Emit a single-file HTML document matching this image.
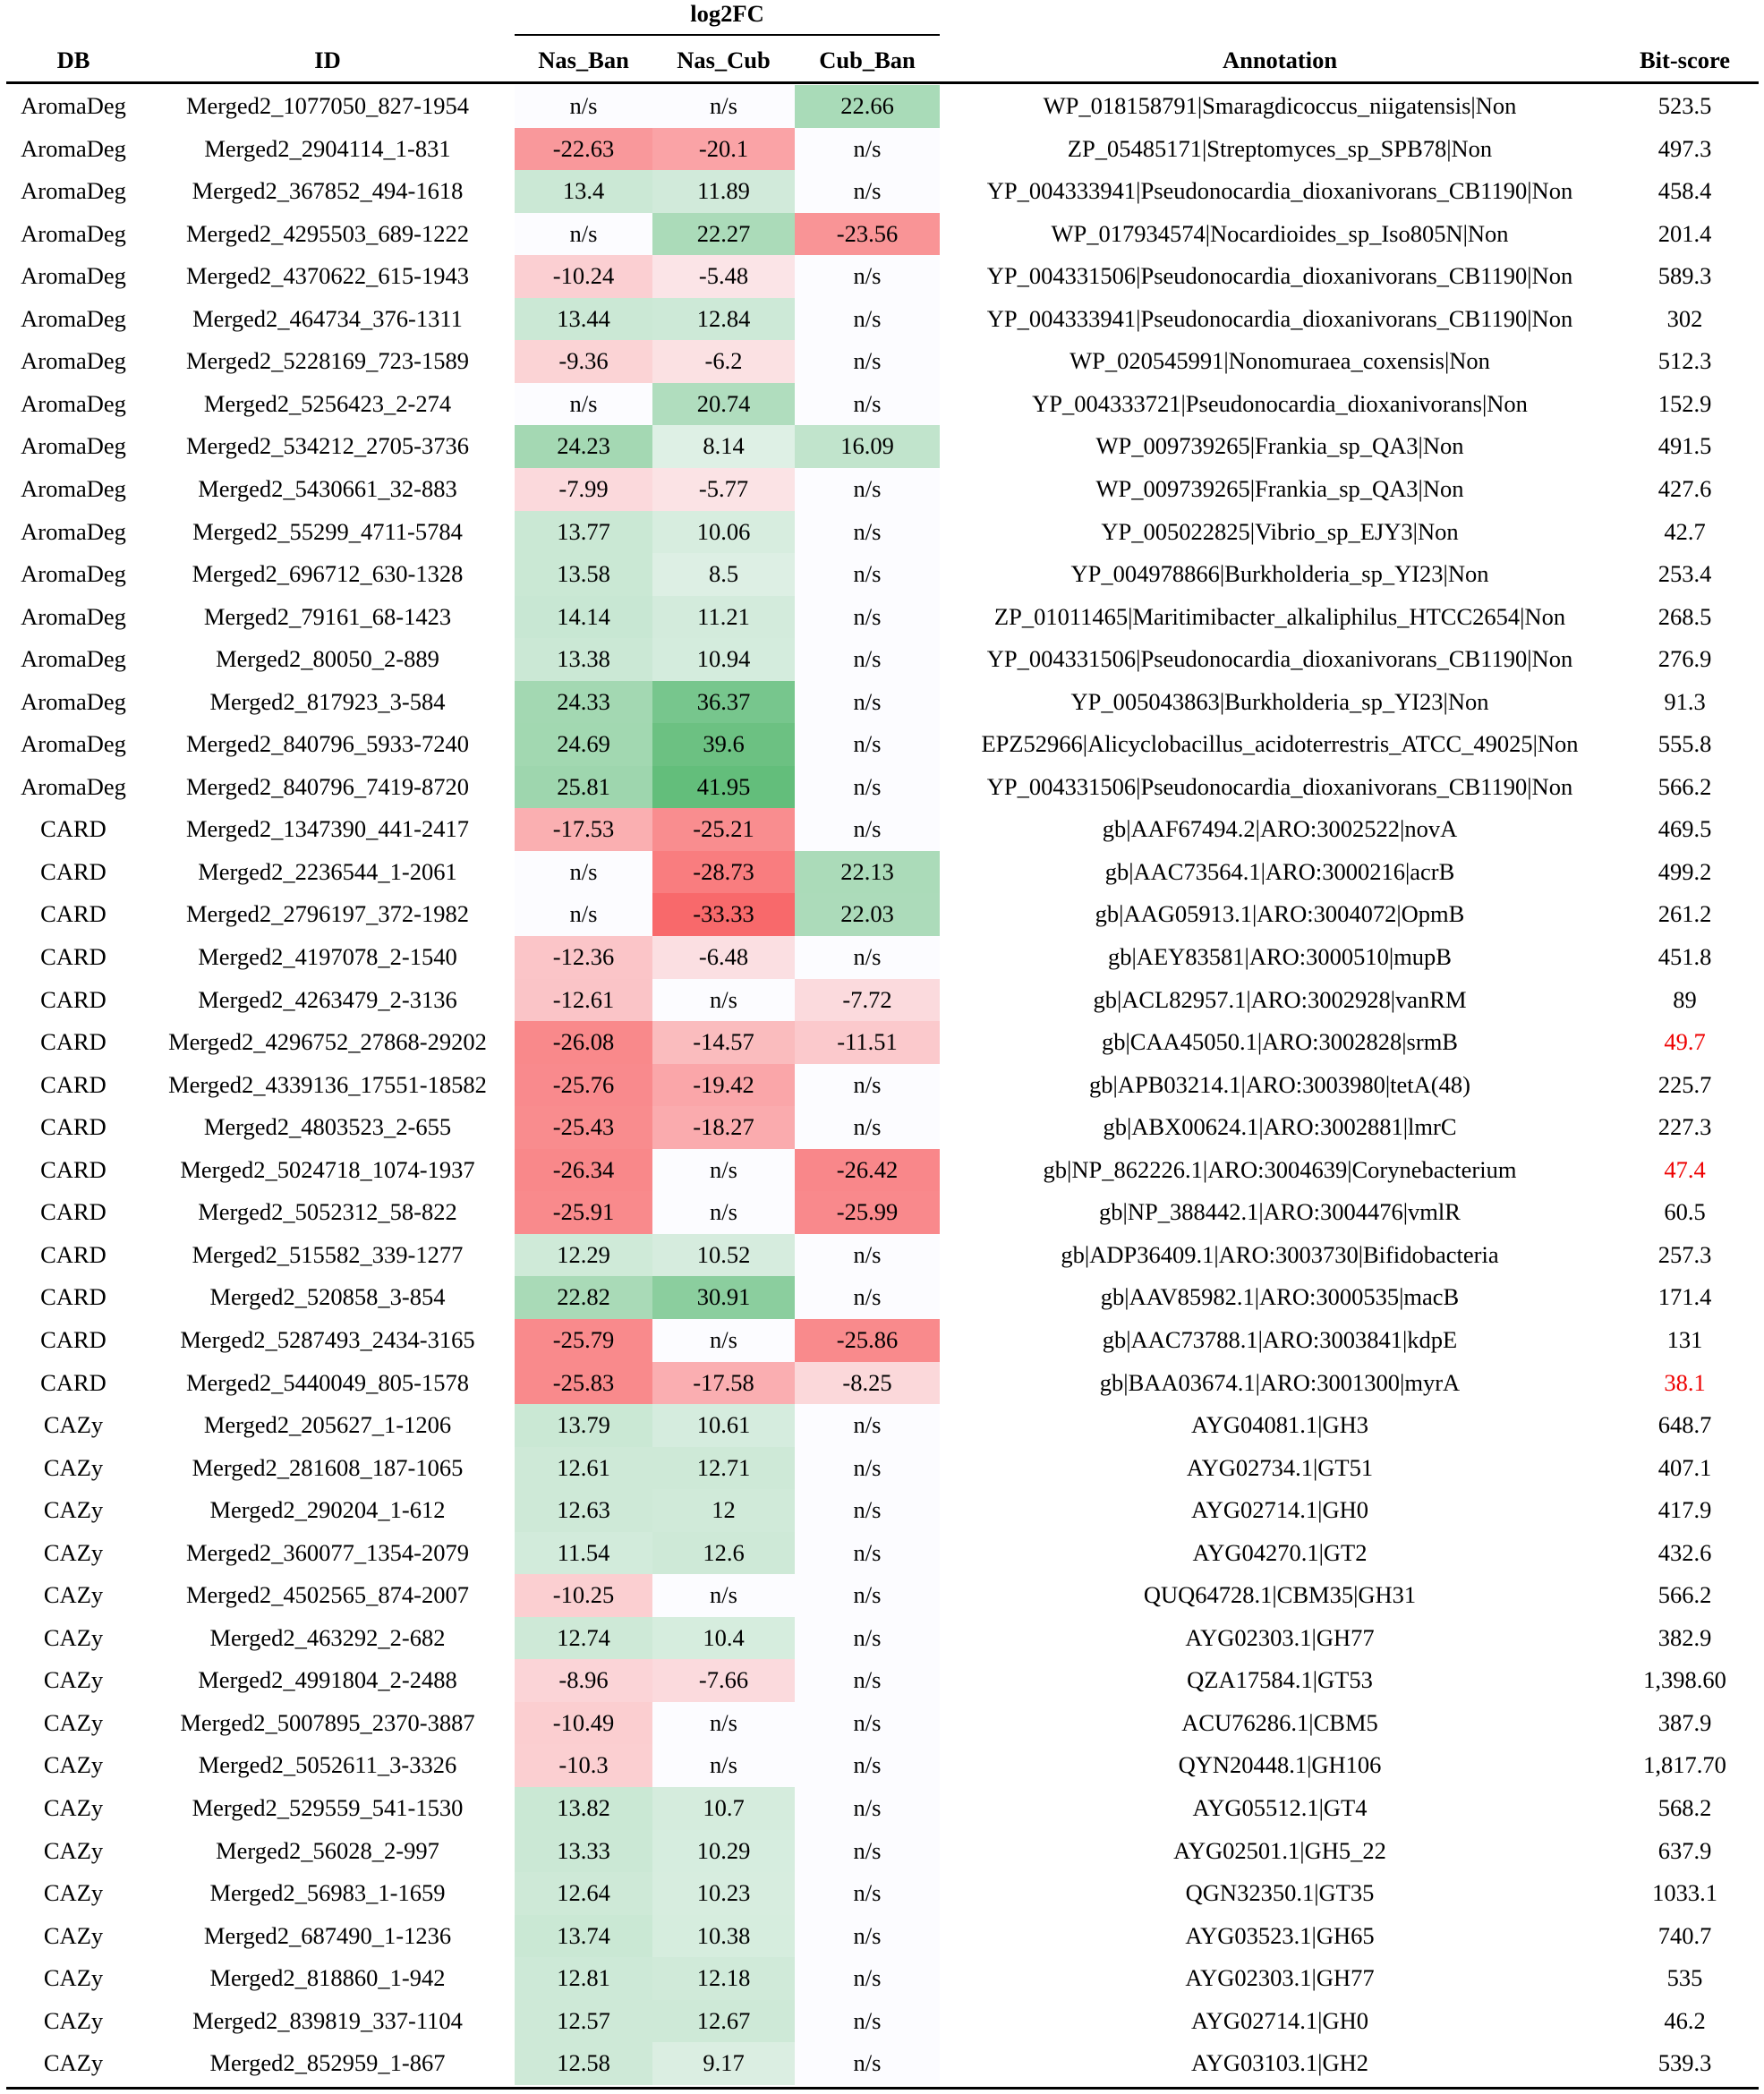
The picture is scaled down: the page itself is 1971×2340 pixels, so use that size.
<!DOCTYPE html>
<html><head><meta charset="utf-8">
<style>
body{margin:0;background:#fff;width:1971px;height:2340px;position:relative;overflow:hidden;font-family:"Liberation Serif",serif;font-size:26.5px;color:#000}
.a{position:absolute;white-space:nowrap}
.c{position:absolute;text-align:center;line-height:47.6px;height:47.6px;white-space:nowrap}
.h{font-weight:bold}
</style></head><body>
<div class="a h" style="left:575px;width:475px;text-align:center;top:0px">log2FC</div>
<div class="a" style="left:575px;width:475px;top:38px;height:2px;background:#000"></div>
<div class="a" style="left:7px;width:1958px;top:91px;height:3px;background:#000"></div>
<div class="a" style="left:7px;width:1958px;top:2332px;height:3px;background:#000"></div>
<div id="t"></div>
<script>
const D=`AromaDeg|Merged2_1077050_827-1954|n/s|n/s|22.66|WP_018158791|Smaragdicoccus_niigatensis|Non|523.5
AromaDeg|Merged2_2904114_1-831|-22.63|-20.1|n/s|ZP_05485171|Streptomyces_sp_SPB78|Non|497.3
AromaDeg|Merged2_367852_494-1618|13.4|11.89|n/s|YP_004333941|Pseudonocardia_dioxanivorans_CB1190|Non|458.4
AromaDeg|Merged2_4295503_689-1222|n/s|22.27|-23.56|WP_017934574|Nocardioides_sp_Iso805N|Non|201.4
AromaDeg|Merged2_4370622_615-1943|-10.24|-5.48|n/s|YP_004331506|Pseudonocardia_dioxanivorans_CB1190|Non|589.3
AromaDeg|Merged2_464734_376-1311|13.44|12.84|n/s|YP_004333941|Pseudonocardia_dioxanivorans_CB1190|Non|302
AromaDeg|Merged2_5228169_723-1589|-9.36|-6.2|n/s|WP_020545991|Nonomuraea_coxensis|Non|512.3
AromaDeg|Merged2_5256423_2-274|n/s|20.74|n/s|YP_004333721|Pseudonocardia_dioxanivorans|Non|152.9
AromaDeg|Merged2_534212_2705-3736|24.23|8.14|16.09|WP_009739265|Frankia_sp_QA3|Non|491.5
AromaDeg|Merged2_5430661_32-883|-7.99|-5.77|n/s|WP_009739265|Frankia_sp_QA3|Non|427.6
AromaDeg|Merged2_55299_4711-5784|13.77|10.06|n/s|YP_005022825|Vibrio_sp_EJY3|Non|42.7
AromaDeg|Merged2_696712_630-1328|13.58|8.5|n/s|YP_004978866|Burkholderia_sp_YI23|Non|253.4
AromaDeg|Merged2_79161_68-1423|14.14|11.21|n/s|ZP_01011465|Maritimibacter_alkaliphilus_HTCC2654|Non|268.5
AromaDeg|Merged2_80050_2-889|13.38|10.94|n/s|YP_004331506|Pseudonocardia_dioxanivorans_CB1190|Non|276.9
AromaDeg|Merged2_817923_3-584|24.33|36.37|n/s|YP_005043863|Burkholderia_sp_YI23|Non|91.3
AromaDeg|Merged2_840796_5933-7240|24.69|39.6|n/s|EPZ52966|Alicyclobacillus_acidoterrestris_ATCC_49025|Non|555.8
AromaDeg|Merged2_840796_7419-8720|25.81|41.95|n/s|YP_004331506|Pseudonocardia_dioxanivorans_CB1190|Non|566.2
CARD|Merged2_1347390_441-2417|-17.53|-25.21|n/s|gb|AAF67494.2|ARO:3002522|novA|469.5
CARD|Merged2_2236544_1-2061|n/s|-28.73|22.13|gb|AAC73564.1|ARO:3000216|acrB|499.2
CARD|Merged2_2796197_372-1982|n/s|-33.33|22.03|gb|AAG05913.1|ARO:3004072|OpmB|261.2
CARD|Merged2_4197078_2-1540|-12.36|-6.48|n/s|gb|AEY83581|ARO:3000510|mupB|451.8
CARD|Merged2_4263479_2-3136|-12.61|n/s|-7.72|gb|ACL82957.1|ARO:3002928|vanRM|89
CARD|Merged2_4296752_27868-29202|-26.08|-14.57|-11.51|gb|CAA45050.1|ARO:3002828|srmB|*49.7
CARD|Merged2_4339136_17551-18582|-25.76|-19.42|n/s|gb|APB03214.1|ARO:3003980|tetA(48)|225.7
CARD|Merged2_4803523_2-655|-25.43|-18.27|n/s|gb|ABX00624.1|ARO:3002881|lmrC|227.3
CARD|Merged2_5024718_1074-1937|-26.34|n/s|-26.42|gb|NP_862226.1|ARO:3004639|Corynebacterium|*47.4
CARD|Merged2_5052312_58-822|-25.91|n/s|-25.99|gb|NP_388442.1|ARO:3004476|vmlR|60.5
CARD|Merged2_515582_339-1277|12.29|10.52|n/s|gb|ADP36409.1|ARO:3003730|Bifidobacteria|257.3
CARD|Merged2_520858_3-854|22.82|30.91|n/s|gb|AAV85982.1|ARO:3000535|macB|171.4
CARD|Merged2_5287493_2434-3165|-25.79|n/s|-25.86|gb|AAC73788.1|ARO:3003841|kdpE|131
CARD|Merged2_5440049_805-1578|-25.83|-17.58|-8.25|gb|BAA03674.1|ARO:3001300|myrA|*38.1
CAZy|Merged2_205627_1-1206|13.79|10.61|n/s|AYG04081.1|GH3|648.7
CAZy|Merged2_281608_187-1065|12.61|12.71|n/s|AYG02734.1|GT51|407.1
CAZy|Merged2_290204_1-612|12.63|12|n/s|AYG02714.1|GH0|417.9
CAZy|Merged2_360077_1354-2079|11.54|12.6|n/s|AYG04270.1|GT2|432.6
CAZy|Merged2_4502565_874-2007|-10.25|n/s|n/s|QUQ64728.1|CBM35|GH31|566.2
CAZy|Merged2_463292_2-682|12.74|10.4|n/s|AYG02303.1|GH77|382.9
CAZy|Merged2_4991804_2-2488|-8.96|-7.66|n/s|QZA17584.1|GT53|1,398.60
CAZy|Merged2_5007895_2370-3887|-10.49|n/s|n/s|ACU76286.1|CBM5|387.9
CAZy|Merged2_5052611_3-3326|-10.3|n/s|n/s|QYN20448.1|GH106|1,817.70
CAZy|Merged2_529559_541-1530|13.82|10.7|n/s|AYG05512.1|GT4|568.2
CAZy|Merged2_56028_2-997|13.33|10.29|n/s|AYG02501.1|GH5_22|637.9
CAZy|Merged2_56983_1-1659|12.64|10.23|n/s|QGN32350.1|GT35|1033.1
CAZy|Merged2_687490_1-1236|13.74|10.38|n/s|AYG03523.1|GH65|740.7
CAZy|Merged2_818860_1-942|12.81|12.18|n/s|AYG02303.1|GH77|535
CAZy|Merged2_839819_337-1104|12.57|12.67|n/s|AYG02714.1|GH0|46.2
CAZy|Merged2_852959_1-867|12.58|9.17|n/s|AYG03103.1|GH2|539.3`;
function mix(a,b,t){return 'rgb('+a.map((v,i)=>Math.round(v+(b[i]-v)*t)).join(',')+')'}
function col(s){if(s==='n/s')return '#fcfcff';const v=parseFloat(s);const w=[252,252,255];
 if(v<0)return mix(w,[248,105,107],Math.min(1,-v/33.33));return mix(w,[99,190,123],Math.min(1,v/41.95));}
let h='';const H=47.55,T=95;
const hd=[['DB',7,150],['ID',150,432],['Nas_Ban',575,154],['Nas_Cub',729,159],['Cub_Ban',888,162],['Annotation',1060,740],['Bit-score',1800,165]];
hd.forEach(x=>h+=`<div class="c h" style="left:${x[1]}px;width:${x[2]}px;top:44px">${x[0]}</div>`);
D.split('\n').forEach((l,i)=>{const p=l.split('|');const y=T+i*H;
 const bit=p[p.length-1];const ann=p.slice(5,p.length-1).join('|');
 h+=`<div class="c" style="left:7px;width:150px;top:${y}px">${p[0]}</div>`;
 h+=`<div class="c" style="left:150px;width:432px;top:${y}px">${p[1]}</div>`;
 [[575,154],[729,159],[888,162]].forEach((c,k)=>{h+=`<div class="c" style="left:${c[0]}px;width:${c[1]}px;top:${y}px;background:${col(p[2+k])}">${p[2+k]}</div>`});
 h+=`<div class="c" style="left:1060px;width:740px;top:${y}px">${ann}</div>`;
 const red=bit[0]==='*';h+=`<div class="c" style="left:1800px;width:165px;top:${y}px;${red?'color:#e00':''}">${red?bit.slice(1):bit}</div>`;
});
document.getElementById('t').innerHTML=h;
</script>
</body></html>
